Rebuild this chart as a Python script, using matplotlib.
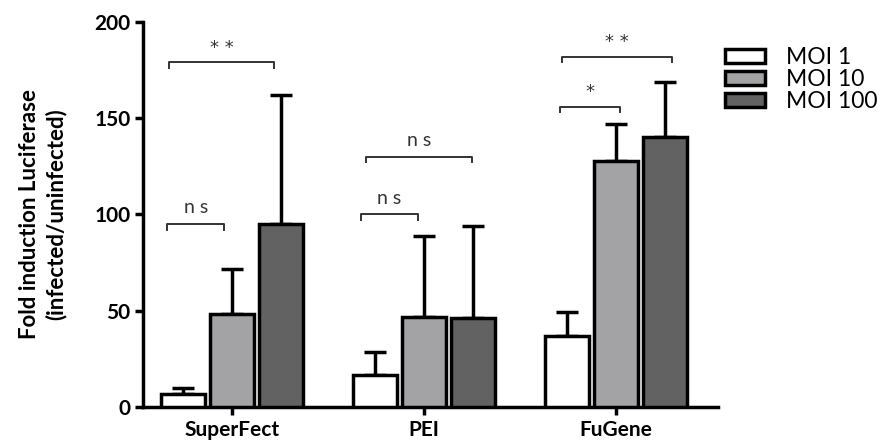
import numpy as np
import matplotlib.pyplot as plt

plt.rcParams['font.family'] = ['Lato', 'DejaVu Sans']

groups = ["SuperFect", "PEI", "FuGene"]
series = ["MOI 1", "MOI 10", "MOI 100"]
colors = ["white", "#a3a3a6", "#626262"]

means = [
    [7, 16.5, 37],      # MOI 1
    [48.5, 47, 128],    # MOI 10
    [95, 46, 140],      # MOI 100
]
errs = [
    [3, 12, 12.5],
    [23, 42, 19],
    [67, 48, 29],
]

# significance brackets: (x0, x1, y, label) in axis data coords
brackets = [
    (-0.33, 0.22, 179, "* *"),
    (-0.34, -0.04, 95, "n s"),
    (0.70, 1.25, 130, "n s"),
    (0.67, 0.97, 100, "n s"),
    (1.72, 2.29, 182, "* *"),
    (1.71, 2.02, 156, "*"),
]

fig = plt.figure(figsize=(8.83, 4.48), dpi=100)
ax = fig.add_axes([0.162, 0.0915, 0.651, 0.8595])

x = np.arange(len(groups))
offsets = [-0.255, 0.0, 0.255]
width = 0.232
handles = []
for i in range(len(series)):
    pos = x + offsets[i]
    b = ax.bar(pos, means[i], width, color=colors[i], edgecolor="black",
               linewidth=2.5, zorder=3)
    handles.append(b)
    ax.errorbar(pos, means[i], yerr=[np.zeros(len(groups)), errs[i]],
                fmt="none", ecolor="black", elinewidth=2.5, capsize=8,
                capthick=2.5, zorder=2)

for x0, x1, y, lab in brackets:
    ax.plot([x0, x0, x1, x1], [y - 3, y, y, y - 3], color="#333333", lw=1.4,
            zorder=4)
    if "*" in lab:
        ax.text((x0 + x1) / 2, y + 3, lab, ha="center", va="bottom",
                fontsize=13, color="#333333", family="DejaVu Sans")
    else:
        ax.text((x0 + x1) / 2, y + 4, lab, ha="center", va="bottom",
                fontsize=14, color="#333333")

ax.set_xlim(-0.464, 2.531)
ax.set_ylim(0, 200)
ax.set_yticks([0, 50, 100, 150, 200])
ax.set_xticks(x)
ax.set_xticklabels(groups, fontsize=15, fontweight="bold")
for t in ax.get_yticklabels():
    t.set_fontsize(15)
    t.set_fontweight("bold")
ax.tick_params(axis="both", direction="out", length=6, width=2.5, pad=3)
ax.set_ylabel("Fold induction Luciferase\n(infected/uninfected)",
              fontsize=16, fontweight="bold", linespacing=1.3)
ax.yaxis.set_label_coords(-0.133, 0.5)

for s in ["top", "right"]:
    ax.spines[s].set_visible(False)
for s in ["left", "bottom"]:
    ax.spines[s].set_linewidth(2.5)

ax.legend(handles, series, loc="upper left", bbox_to_anchor=(1.012, 0.935),
          frameon=False, fontsize=16.5, handlelength=1.75, handleheight=0.6,
          labelspacing=0.05, handletextpad=0.9, borderaxespad=0, borderpad=0)

fig.savefig("out.png", dpi=100)
